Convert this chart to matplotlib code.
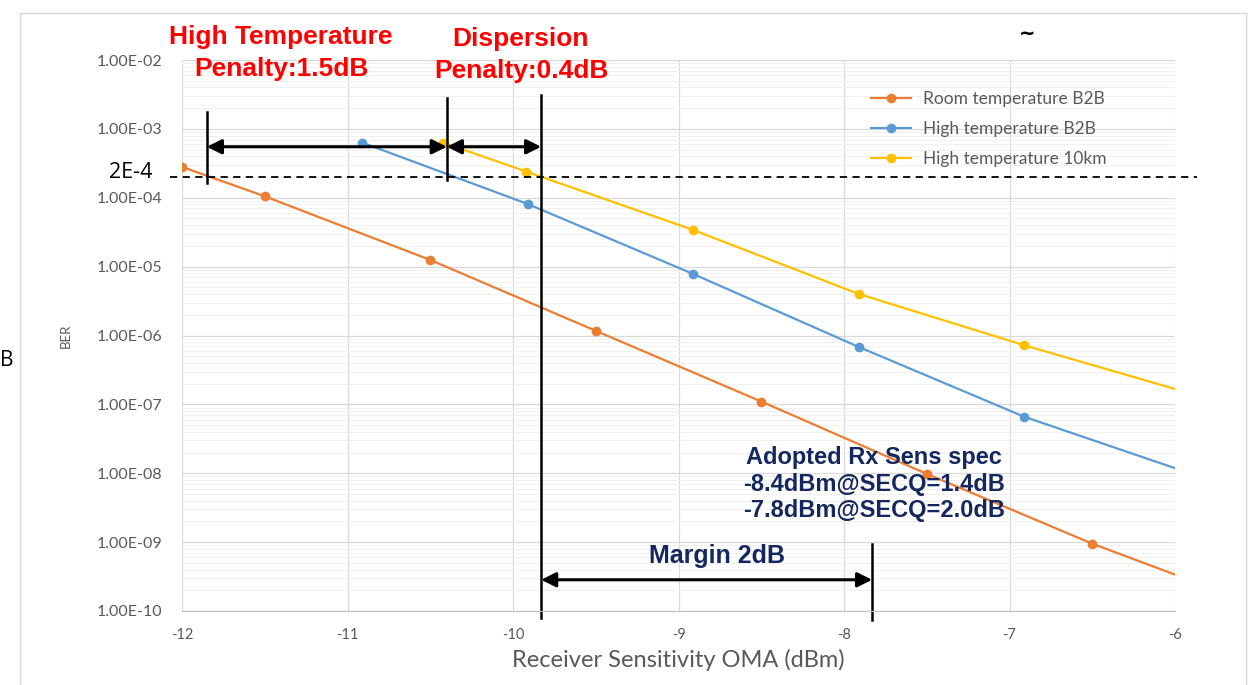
import matplotlib
matplotlib.use('Agg')
import matplotlib.pyplot as plt
import matplotlib.ticker as mticker
from matplotlib.lines import Line2D
import numpy as np

plt.rcParams['axes.unicode_minus'] = False

# data (last point of each series lies past the -6 edge)
room_x = [-12.0, -11.5, -10.5, -9.5, -8.5, -7.5, -6.5, -5.5]
room_ber = [2.8e-4, 1.05e-4, 1.25e-5, 1.17e-6, 1.1e-7, 9.8e-9, 9.5e-10, 1.2e-10]
high_x = [-10.91, -9.91, -8.91, -7.91, -6.91, -5.91]
high_ber = [6.3e-4, 8.1e-5, 7.8e-6, 6.8e-7, 6.6e-8, 1.0e-8]
km10_x = [-10.42, -9.92, -8.91, -7.91, -6.91, -5.91]
km10_ber = [6.3e-4, 2.4e-4, 3.4e-5, 4.0e-6, 7.2e-7, 1.45e-7]
labels = ['Room temperature B2B', 'High temperature B2B', 'High temperature 10km']
colors = ['#ED7D31', '#5B9BD5', '#FFC000']
ber_limit = 2e-4
x_ticks = [-12, -11, -10, -9, -8, -7, -6]
y_ticks = [1e-10, 1e-9, 1e-8, 1e-7, 1e-6, 1e-5, 1e-4, 1e-3, 1e-2]

W, H = 1253, 685
fig = plt.figure(figsize=(W / 100, H / 100), dpi=100)
ax = fig.add_axes([182 / W, 1 - 611 / H, (1175 - 182) / W, (611 - 60) / H])

for xs, ys, lab, c in zip([room_x, high_x, km10_x], [room_ber, high_ber, km10_ber], labels, colors):
    ax.plot(xs, ys, color=c, lw=1.6, marker='o', ms=6, label=lab)

ax.set_yscale('log')
ax.set_xlim(-12, -6)
ax.set_ylim(1e-10, 1e-2)
ax.set_xticks(x_ticks)
ax.set_yticks(y_ticks)
ax.yaxis.set_minor_locator(mticker.LogLocator(base=10, subs=np.arange(2, 10), numticks=20))
ax.yaxis.set_major_formatter(mticker.FuncFormatter(lambda v, p: '%.2E' % v))
ax.yaxis.set_minor_formatter(mticker.NullFormatter())
ax.grid(True, which='major', color='#d9d9d9', lw=0.9)
ax.grid(True, which='minor', axis='y', color='#f0f0f0', lw=0.7)
ax.set_axisbelow(True)
for s in ['top', 'right', 'left']:
    ax.spines[s].set_visible(False)
ax.spines['bottom'].set_color('#bfbfbf')
ax.tick_params(which='both', length=0, colors='#595959', pad=12)
ax.tick_params(axis='x', labelsize=10.5)
ax.tick_params(axis='y', labelsize=11.5, pad=14)
for t in ax.get_xticklabels() + ax.get_yticklabels():
    t.set_family('Lato')
ax.set_xlabel('Receiver Sensitivity OMA (dBm)', fontsize=17, color='#595959', labelpad=5, family='Lato')
ax.set_ylabel('BER', fontsize=9.5, color='#595959', labelpad=18, family='Lato')

leg = ax.legend(loc='upper left', bbox_to_anchor=(0.678, 0.972), frameon=False,
                prop={'family': 'Lato', 'size': 12.5},
                labelcolor='#595959', handlelength=2.3, handletextpad=0.7, labelspacing=0.8)

# 2E-4 reference line, running past the plot edges
ax.plot([-12.07, -5.87], [ber_limit, ber_limit], color='black', lw=1.3, ls=(0, (4, 3)), clip_on=False)

# penalty markers
ax.plot([-11.85, -11.85], [1.76e-3, 1.64e-4], color='black', lw=1.8)
ax.plot([-10.40, -10.40], [2.8e-3, 1.8e-4], color='black', lw=1.8)
ax.plot([-9.83, -9.83], [3.1e-3, 7.9e-11], color='black', lw=1.8, clip_on=False)
ax.plot([-7.83, -7.83], [9.5e-10, 7.4e-11], color='black', lw=1.8, clip_on=False)
arr = dict(arrowstyle='<|-|>', color='black', lw=2.2, mutation_scale=22, shrinkA=0, shrinkB=0)
ax.annotate('', xy=(-10.40, 5.5e-4), xytext=(-11.85, 5.5e-4), arrowprops=arr)
ax.annotate('', xy=(-9.83, 5.5e-4), xytext=(-10.40, 5.5e-4), arrowprops=arr)
ax.annotate('', xy=(-7.83, 2.84e-10), xytext=(-9.83, 2.84e-10), arrowprops=arr, annotation_clip=False)

red = dict(color='#ff0000', fontsize=19, fontweight='bold', family='Liberation Sans',
           ha='center', va='center', linespacing=1.42)
fig.text(281 / W, 1 - 53 / H, 'High Temperature\nPenalty:1.5dB', **red)
fig.text(521 / W, 1 - 55 / H, 'Dispersion\nPenalty:0.4dB', **red)
navy = dict(color='#14285f', fontweight='bold', family='Liberation Sans', ha='center', va='center')
fig.text(874 / W, 1 - 484 / H, 'Adopted Rx Sens spec\n-8.4dBm@SECQ=1.4dB\n-7.8dBm@SECQ=2.0dB',
         fontsize=17, linespacing=1.2, **navy)
fig.text(717 / W, 1 - 556 / H, 'Margin 2dB', fontsize=18, **navy)
fig.text(131 / W, 1 - 172 / H, '2E-4', fontsize=15.5, ha='center', va='center', family='Open Sans')
fig.text(7 / W, 1 - 360 / H, 'B', fontsize=15, ha='center', va='center', family='Open Sans')
fig.text(1027 / W, 1 - 33 / H, '~', fontsize=14, ha='center', va='center', fontweight='bold')

# outer chart frame (left, right, top)
frame_color = '#d9d9d9'
fig.add_artist(Line2D([20 / W, 20 / W], [0, 1 - 13 / H], transform=fig.transFigure, color=frame_color, lw=1))
fig.add_artist(Line2D([1246 / W, 1246 / W], [0, 1 - 13 / H], transform=fig.transFigure, color=frame_color, lw=1))
fig.add_artist(Line2D([20 / W, 1246 / W], [1 - 13 / H] * 2, transform=fig.transFigure, color=frame_color, lw=1))

fig.savefig('out.png', dpi=100)
